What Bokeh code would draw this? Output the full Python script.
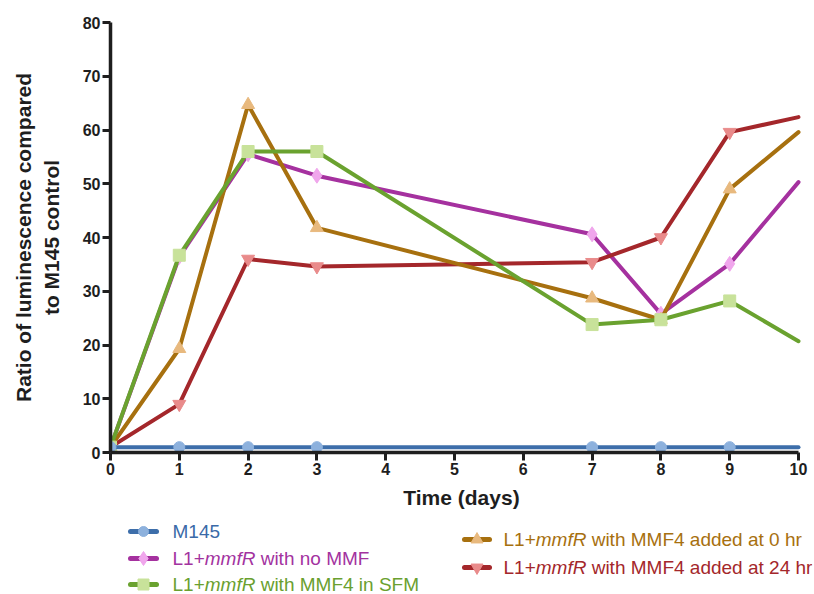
from bokeh.plotting import figure
from bokeh.layouts import column
from bokeh.models import Range1d, FixedTicker
from bokeh.core.properties import value
from bokeh.embed import file_html
from bokeh.resources import INLINE

# ---------------- data ----------------
days = [0, 1, 2, 3, 7, 8, 9, 10]
m145 = [1.0, 1.0, 1.0, 1.0, 1.0, 1.0, 1.0, 1.0]
no_mmf = [1.0, 36.4, 55.5, 51.5, 40.6, 25.8, 35.1, 50.3]
mmf4_sfm = [1.0, 36.7, 56.0, 56.0, 23.8, 24.7, 28.2, 20.7]
mmf4_0hr = [1.0, 19.3, 64.7, 41.8, 28.7, 24.7, 49.0, 59.6]
mmf4_24hr = [1.0, 9.0, 36.0, 34.6, 35.4, 40.0, 59.6, 62.4]

x_ticks = [0, 1, 2, 3, 4, 5, 6, 7, 8, 9, 10]
y_ticks = [0, 10, 20, 30, 40, 50, 60, 70, 80]

legend_labels = [
    "M145",
    "L1+mmfR with no MMF",
    "L1+mmfR with MMF4 in SFM",
    "L1+mmfR with MMF4 added at 0 hr",
    "L1+mmfR with MMF4 added at 24 hr",
]
italic_term = "mmfR"

FONT = "Liberation Sans"
AXIS_COLOR = "#1e1e1e"

# style per series: (values, line colour, marker colour, marker, size, text colour)
series = {
    "M145": (m145, "#3d6eaa", "#8db1dd", "circle", 11, "#3a6aa8"),
    "L1+mmfR with no MMF": (no_mmf, "#a5319f", "#f0a6ec", "diamond", 15, "#a3339f"),
    "L1+mmfR with MMF4 in SFM": (mmf4_sfm, "#6aa22f", "#c8e29a", "square", 12, "#6aa02f"),
    "L1+mmfR with MMF4 added at 0 hr": (mmf4_0hr, "#a7700f", "#e8b97e", "triangle", 13, "#a7700f"),
    "L1+mmfR with MMF4 added at 24 hr": (mmf4_24hr, "#a4272b", "#e98b8b", "inverted_triangle", 13, "#a4272b"),
}
draw_order = [
    "L1+mmfR with no MMF",
    "L1+mmfR with MMF4 added at 24 hr",
    "L1+mmfR with MMF4 added at 0 hr",
    "L1+mmfR with MMF4 in SFM",
    "M145",
]

LEFT = 110
FRAME_W = 702
RIGHT = 2
PX_PER_DAY = 68.8

# ---------------- main plot ----------------
p = figure(
    frame_width=FRAME_W, frame_height=430,
    x_range=Range1d(x_ticks[0], x_ticks[0] + FRAME_W / PX_PER_DAY),
    y_range=Range1d(y_ticks[0], y_ticks[-1]),
    output_backend="svg", toolbar_location=None,
    min_border_left=LEFT, min_border_right=RIGHT, min_border_top=22, min_border_bottom=66,
)
p.outline_line_color = None
p.xgrid.visible = False
p.ygrid.visible = False
p.background_fill_color = "white"
p.border_fill_color = "white"

for ax in (p.xaxis[0], p.yaxis[0]):
    ax.axis_line_width = 3.5
    ax.axis_line_color = AXIS_COLOR
    ax.major_tick_line_width = 3
    ax.major_tick_line_color = AXIS_COLOR
    ax.major_tick_out = 8
    ax.major_tick_in = 0
    ax.minor_tick_line_color = None
    ax.major_label_text_font = FONT
    ax.major_label_text_font_style = "bold"
    ax.major_label_text_font_size = "16px"
    ax.major_label_text_color = AXIS_COLOR
    ax.axis_label_text_font = FONT
    ax.axis_label_text_font_style = "bold"
    ax.axis_label_text_font_size = "21px"
    ax.axis_label_text_color = AXIS_COLOR

p.xaxis[0].ticker = FixedTicker(ticks=x_ticks)
p.yaxis[0].ticker = FixedTicker(ticks=y_ticks)
p.xaxis[0].bounds = (x_ticks[0], x_ticks[-1])
p.yaxis[0].bounds = (y_ticks[0], y_ticks[-1])
p.xaxis[0].axis_label = "Time (days)"
p.yaxis[0].axis_label = "Ratio of luminescence compared\nto M145 control"
p.xaxis[0].major_label_standoff = 2
p.yaxis[0].major_label_standoff = 2
p.xaxis[0].axis_label_standoff = 8
p.yaxis[0].axis_label_standoff = 17

for name in draw_order:
    vals, lc, mc, mk, sz, tc = series[name]
    p.line(days, vals, line_color=lc, line_width=4, line_join="round", line_cap="round")
    p.scatter(days[:-1], vals[:-1], marker=mk, size=sz, fill_color=mc, line_color=mc)

# ---------------- legend (separate strip, data units = pixels) ----------------
LEG_H = 76
lg = figure(
    frame_width=FRAME_W, frame_height=LEG_H,
    x_range=Range1d(LEFT, LEFT + FRAME_W), y_range=Range1d(LEG_H, 0),
    x_axis_type=None, y_axis_type=None,
    output_backend="svg", toolbar_location=None,
    min_border_left=LEFT, min_border_right=RIGHT, min_border_top=0, min_border_bottom=0,
)
lg.outline_line_color = None
lg.xgrid.visible = False
lg.ygrid.visible = False

# Arial / Liberation Sans advance widths (per 1000 em)
W = {" ": 278, "L": 556, "1": 556, "+": 584, "m": 833, "f": 278, "R": 722,
     "w": 722, "i": 222, "t": 278, "h": 556, "n": 556, "o": 556, "M": 833,
     "F": 611, "4": 556, "a": 556, "d": 556, "e": 556, "2": 556, "r": 333,
     "S": 667, "0": 556, "5": 556}
FS = 19


def tw(s):
    return sum(W.get(c, 556) for c in s) * FS / 1000.0


# slots: (line x0, line x1, text x, y) in pixels of the strip
slots = {
    "M145": (130, 156, 172, 13),
    "L1+mmfR with no MMF": (130, 156, 172, 40),
    "L1+mmfR with MMF4 in SFM": (130, 156, 172, 66),
    "L1+mmfR with MMF4 added at 0 hr": (464, 489, 503, 21),
    "L1+mmfR with MMF4 added at 24 hr": (464, 489, 503, 49),
}

for name in legend_labels:
    vals, lc, mc, mk, sz, tc = series[name]
    x0, x1, tx, yy = slots[name]
    lg.line([x0, x1], [yy, yy], line_color=lc, line_width=5, line_cap="round")
    lg.scatter([(x0 + x1) / 2], [yy], marker=mk, size=sz - 1, fill_color=mc, line_color=mc)
    if italic_term in name:
        pre, post = name.split(italic_term)
        pieces = [(pre, "normal"), (italic_term, "italic"), (post, "normal")]
    else:
        pieces = [(name, "normal")]
    cx = tx
    for txt, style in pieces:
        stripped = txt.lstrip(" ")
        lead = tw(txt[: len(txt) - len(stripped)])
        if stripped:
            lg.text([cx + lead], [yy], text=[stripped], text_font=value(FONT),
                    text_font_style=style, text_font_size=f"{FS}px",
                    text_color=tc, text_baseline="middle", text_align="left")
        cx += tw(txt)

layout = column(p, lg, spacing=0)
open("out.html", "w").write(file_html(layout, INLINE))
